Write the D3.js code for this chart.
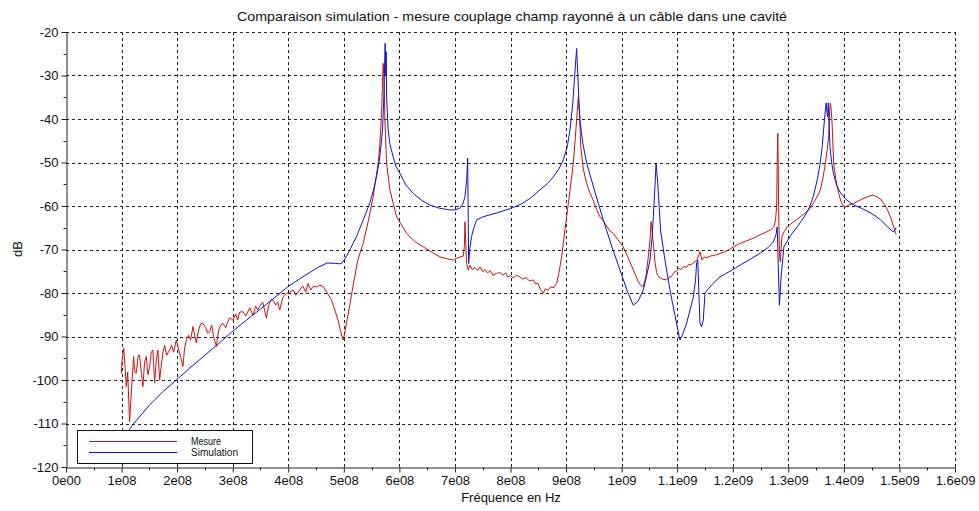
<!DOCTYPE html>
<html><head><meta charset="utf-8">
<script src="https://cdn.jsdelivr.net/npm/d3@7"></script>
<style>
html,body{margin:0;padding:0;background:#fff;}
text{font-family:"Liberation Sans",Arial,sans-serif;fill:#111;}
</style></head>
<body><svg id="c" width="979" height="511"></svg>
<script>
// ---- data (frequency in MHz, level in dB) ----
const titleText = "Comparaison simulation - mesure couplage champ rayonné à un câble dans une cavité";
const xLabel = "Fréquence en Hz";
const yLabel = "dB";
const seriesNames = ["Mesure", "Simulation"];
const xTickValues = [0,1e8,2e8,3e8,4e8,5e8,6e8,7e8,8e8,9e8,1e9,1.1e9,1.2e9,1.3e9,1.4e9,1.5e9,1.6e9];
const xTickLabels = ["0e00","1e08","2e08","3e08","4e08","5e08","6e08","7e08","8e08","9e08","1e09","1.1e09","1.2e09","1.3e09","1.4e09","1.5e09","1.6e09"];
const yTickValues = [-120,-110,-100,-90,-80,-70,-60,-50,-40,-30,-20];

const mesure = [
[99.5,-98.5],[101,-95.4],[104,-92.7],[106,-96.5],[108.5,-101.5],[111,-98.2],[114.4,-109.6],[117.5,-103],
[121.6,-94.6],[124,-98.2],[126.5,-98.4],[130,-94.3],[132.4,-94.3],[135.5,-98.2],[138.4,-101.5],[141.4,-95.9],
[144.5,-94.6],[147.4,-98.8],[150.5,-96.9],[153.5,-93.6],[156.4,-93.1],[159.5,-100.7],[162.5,-95.4],[165.4,-93.1],
[168.5,-100],[171.5,-96.6],[174.4,-93.8],[177.5,-92],[181,-94.3],[186.5,-93.1],[190,-92],[193.7,-93.6],
[198.6,-90.8],[202.7,-93.1],[206.3,-94.7],[210.5,-96.9],[213.5,-92.6],[216.6,-90.8],[220.7,-89.7],[224.3,-90.8],
[228.5,-87.7],[231.5,-89.7],[234.6,-91.5],[238.7,-88.5],[242.3,-87.1],[246.5,-87],[251.4,-88],[255,-89.2],
[258.6,-88.9],[262.2,-87.4],[265.8,-90.1],[270.6,-92.3],[274.8,-88.5],[278.4,-87.4],[282.5,-87],[287.4,-88],
[291,-86.7],[294.6,-85.7],[300.5,-86.2],[305.4,-84.8],[309,-86.2],[312.6,-84.4],[318.6,-84.3],[323.4,-85.3],
[327,-84.4],[330.6,-83.4],[336.6,-85.1],[341.4,-83],[345,-83.9],[348.6,-83.1],[354,-82.1],[360.7,-85.8],
[364.9,-82.8],[368.5,-81.6],[372.6,-81.6],[377.5,-82.8],[381,-82.1],[384.7,-83.9],[390,-81.1],[396.8,-80.1],
[402.7,-79.8],[408.6,-79.3],[413.5,-80.5],[420.7,-79.3],[426,-78.4],[431.5,-79.8],[435.7,-77.8],[440.5,-79.3],
[444.7,-78.5],[451.4,-78.6],[456.8,-78.2],[462.7,-78.5],[469.4,-79.8],[477.8,-81.6],[483.8,-83.9],[489.7,-86.2],
[494.6,-89],[498.7,-90.8],[501.8,-89.2],[504.9,-86.9],[510.8,-82.8],[516.8,-78.2],[525,-72.5],[534.8,-68.6],
[544,-63.5],[552.8,-57.9],[561.8,-50.2],[565,-45.5],[567.9,-38.7],[570.8,-27.2],[572.6,-32],[573.9,-40],
[577,-50.2],[582.9,-56.3],[595,-62.5],[613,-66.3],[628,-68.2],[643,-69.4],[658,-70.6],[673,-71.7],
[685,-72.1],[697,-72.4],[705,-71.9],[715,-71.5],[717.1,-69],[718,-63.6],[719.3,-67.8],[721,-73.2],
[724,-74.7],[727,-73.6],[731,-74.6],[736,-74.1],[741,-74.8],[745,-74],[750,-75.1],[754,-74.6],
[759,-75.4],[763,-74.8],[768,-75.9],[775,-75.5],[781,-75.3],[786.5,-75.9],[791,-75.4],[795.5,-76.3],
[800,-76],[805,-76.5],[811,-75.9],[817,-76.3],[822,-76.8],[828,-76.5],[834,-77.2],[841,-77],
[845,-77.9],[849.5,-77.8],[854,-79.2],[859,-80],[863,-79],[867.6,-79.4],[872,-78.6],[877,-78.8],
[883,-77.8],[887,-75.5],[892,-71.7],[896,-67.5],[901,-62.5],[907,-56.5],[913,-50.2],[916,-45.5],
[919,-40.2],[922,-34.9],[924,-38.6],[926.5,-46.4],[931,-51.5],[937,-54.8],[943,-57],[948.6,-58.6],
[955,-60.8],[961,-62.5],[967,-63.4],[972,-64.4],[978,-65.6],[985,-66.3],[993.7,-67.8],[1003,-69.4],
[1012,-72],[1021,-74.7],[1030,-77.4],[1035,-78.3],[1039,-78.5],[1044,-75.9],[1048,-71.7],[1051,-67.8],
[1053,-63.6],[1055,-66],[1057,-68.6],[1060,-72.9],[1063,-75.3],[1066,-76.2],[1073,-76.8],[1081,-77],
[1085,-76.4],[1089,-76.3],[1094,-75.3],[1099,-74.9],[1103,-74.3],[1107,-74.6],[1112,-73.9],[1117,-74.1],
[1121,-73.4],[1125,-73.5],[1130,-72.9],[1135,-72.5],[1139,-71.3],[1141,-70.5],[1144.5,-72.4],[1149,-71.7],
[1154,-71.9],[1159.5,-71.5],[1165,-71.4],[1171,-71.2],[1177,-70.9],[1186,-70.5],[1195,-69.9],[1204,-69.2],
[1213,-68.6],[1225,-68],[1237.5,-67.4],[1245,-66.9],[1253,-66.4],[1260,-66],[1268,-65.5],[1274,-64.8],
[1277,-63.2],[1279,-60.1],[1280,-50.2],[1281,-43.3],[1282,-51.7],[1282.5,-60.1],[1284,-70.9],[1285.5,-72.8],
[1288.6,-67],[1293,-65.8],[1298,-64.8],[1309,-63.7],[1321.6,-62.5],[1331,-61.5],[1339.6,-60.5],[1348.6,-58.6],
[1354,-57.3],[1357.7,-56.3],[1362,-53.8],[1366.7,-50.2],[1370,-47],[1372.6,-44.1],[1374.5,-37.9],[1375.7,-36.4],
[1377,-37.5],[1378.8,-41],[1381.6,-50.2],[1385.6,-54],[1390.6,-57.1],[1395,-59],[1399.6,-60.1],[1404,-60.2],
[1408,-59.8],[1417.7,-59.4],[1429.7,-58.6],[1441.8,-57.9],[1451.4,-57.5],[1459.8,-57.9],[1465.8,-58.4],[1471.7,-59.4],
[1478.4,-60.9],[1483.8,-62.5],[1489.2,-64.6],[1494,-66.5]
];

const simulation = [
[100,-114],[110.8,-112],[120,-110.3],[150,-105.8],[175,-102.6],[198.6,-100],[225,-97],[250,-94.3],
[275,-91.6],[298,-89],[325,-86.2],[350,-83.7],[375,-81.1],[399,-78.6],[420,-76.8],[440,-75.2],
[455,-74],[470,-73.1],[485,-73.2],[492.8,-73.3],[497,-73.1],[505,-71.5],[512,-69.8],[522.9,-67],
[535,-63.2],[546.8,-59.3],[553,-56.5],[558.9,-53.3],[564.9,-48.7],[569.7,-42.5],[572.1,-34.9],[574.4,-22.6],
[575.7,-30],[576.2,-24.5],[577,-34.9],[579.8,-42.5],[583,-45.8],[588.8,-48.7],[594,-50.9],[600.9,-52.5],
[612,-55.2],[624.9,-57.1],[640,-58.7],[655,-59.8],[672,-60.5],[691,-60.9],[700,-60.9],[709,-60.5],
[714,-59.6],[718,-57.9],[721.1,-54],[722.9,-49],[724.7,-73.2],[727,-69.5],[730,-67],[734,-65],
[739,-63.2],[750,-62.5],[775,-61.6],[800,-60.6],[820,-59.5],[838,-58],[853,-56.3],[866,-54.9],
[877,-53.3],[887,-51.5],[895,-49.4],[902,-46.5],[907,-42.5],[912,-36.5],[915,-31],[919,-23.8],
[921,-29.4],[923,-35.5],[925,-40.2],[930,-45.5],[937,-50.1],[952,-56.8],[967,-63.2],[982,-69.2],
[997,-74.7],[1010,-79.5],[1021,-82.8],[1030,-81.8],[1039,-79.3],[1046,-75.5],[1051,-72.4],[1055,-67],
[1057,-62.5],[1060,-55.5],[1062,-50.1],[1065,-54.7],[1070,-65.5],[1078,-72.5],[1087,-79.3],[1096,-85.2],
[1105,-90.8],[1110,-89.5],[1117,-86.9],[1123,-84],[1129,-80.9],[1133,-77],[1135,-73.1],[1137,-72.4],
[1141,-86.9],[1144,-87.8],[1147,-86.2],[1150,-80],[1163,-78],[1177,-76.3],[1195,-75],[1213,-73.6],
[1232,-72.2],[1250,-70.8],[1263,-69.6],[1273,-68.3],[1278,-66.5],[1280,-64.8],[1282,-74],[1284,-82.8],
[1287,-76.3],[1292,-69.4],[1304,-66.8],[1316,-64.8],[1326,-63],[1336,-60.9],[1345,-57.8],[1352,-54],
[1357,-50.5],[1361,-46.4],[1365,-40.2],[1368,-36.3],[1370.5,-39.5],[1372,-36.3],[1375,-46.4],[1378,-50],
[1381,-52.4],[1387,-55.3],[1394,-57],[1405,-58.6],[1418,-59.8],[1433,-60.6],[1448,-61.6],[1458,-62.4],
[1466,-63.2],[1478,-64.7],[1489,-66],[1494,-65]
];

// ---- drawing ----
const svg = d3.select("#c");
const x = d3.scaleLinear().domain([0, 1.6e9]).range([66, 955]);
const y = d3.scaleLinear().domain([-120, -20]).range([467, 32]);

// grid
const grid = svg.append("g").attr("stroke", "#222").attr("stroke-width", 1)
  .attr("stroke-dasharray", "3,3").attr("shape-rendering", "crispEdges");
grid.selectAll("line.vx").data(xTickValues.slice(1)).join("line")
  .attr("x1", d => Math.round(x(d)) + 0.5).attr("x2", d => Math.round(x(d)) + 0.5)
  .attr("y1", y(-20)).attr("y2", y(-120));
grid.selectAll("line.hy").data(yTickValues.slice(1)).join("line")
  .attr("y1", d => Math.round(y(d)) + 0.5).attr("y2", d => Math.round(y(d)) + 0.5)
  .attr("x1", x(0)).attr("x2", x(1.6e9));

// axes
const xMinor = d3.range(0.5e8, 1.6e9, 1e8);
const yMinor = d3.range(-115, -20, 10);
const xAxis = d3.axisBottom(x).tickValues(xTickValues)
  .tickFormat((d, i) => xTickLabels[i]).tickSize(5).tickSizeOuter(0).tickPadding(3);
const yAxis = d3.axisLeft(y).tickValues(yTickValues).tickSize(5).tickSizeOuter(0).tickPadding(3)
  .tickFormat(d => String(d));
const gx = svg.append("g").attr("transform", `translate(0,${Math.round(y(-120)) + 0.5})`).call(xAxis);
const gy = svg.append("g").attr("transform", `translate(${Math.round(x(0)) + 0.5},0)`).call(yAxis);
[gx, gy].forEach(g => {
  g.select(".domain").attr("stroke", "#222");
  g.selectAll(".tick line").attr("stroke", "#222");
  g.selectAll("text").attr("font-size", 13).attr("fill", "#111")
    .attr("font-family", "'Liberation Sans', Arial, sans-serif");
});
svg.append("g").selectAll("line").data(xMinor).join("line")
  .attr("x1", d => Math.round(x(d)) + 0.5).attr("x2", d => Math.round(x(d)) + 0.5)
  .attr("y1", Math.round(y(-120)) + 0.5).attr("y2", Math.round(y(-120)) + 3.5).attr("stroke", "#222");
svg.append("g").selectAll("line").data(yMinor).join("line")
  .attr("y1", d => Math.round(y(d)) + 0.5).attr("y2", d => Math.round(y(d)) + 0.5)
  .attr("x1", Math.round(x(0)) + 0.5).attr("x2", Math.round(x(0)) - 2.5).attr("stroke", "#222");

// series
const line = d3.line().x(d => x(d[0] * 1e6)).y(d => y(d[1]));
const colors = ["#cc1111", "#1111cc"];
svg.append("path").datum(mesure).attr("d", line).attr("fill", "none")
  .attr("stroke", colors[0]).attr("stroke-width", 1);
svg.append("path").datum(simulation).attr("d", line).attr("fill", "none")
  .attr("stroke", colors[1]).attr("stroke-width", 1);

// title & labels
svg.append("text").attr("x", 512).attr("y", 21).attr("text-anchor", "middle")
  .attr("font-size", 13).attr("textLength", 550).attr("lengthAdjust", "spacingAndGlyphs").text(titleText);
svg.append("text").attr("x", 511).attr("y", 502).attr("text-anchor", "middle")
  .attr("font-size", 13).text(xLabel);
svg.append("text").attr("transform", "translate(22,249) rotate(-90)").attr("text-anchor", "middle")
  .attr("font-size", 13).text(yLabel);

// legend
const lg = svg.append("g");
lg.append("rect").attr("x", 77.5).attr("y", 430.5).attr("width", 175).attr("height", 33)
  .attr("fill", "#fff").attr("stroke", "#111").attr("stroke-width", 1);
seriesNames.forEach((n, i) => {
  const yy = 441 + i * 11;
  lg.append("line").attr("x1", 89).attr("x2", 177).attr("y1", yy + 0.5).attr("y2", yy + 0.5)
    .attr("stroke", colors[i]).attr("stroke-width", 1);
  lg.append("text").attr("x", 191).attr("y", yy + 3.5).attr("font-size", 10)
    .attr("textLength", n.length > 6 ? 47 : 30).attr("lengthAdjust", "spacingAndGlyphs").text(n);
});
</script></body></html>
